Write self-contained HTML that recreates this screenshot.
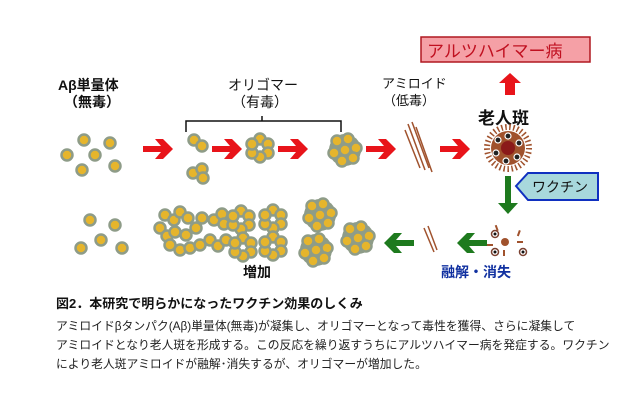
<!DOCTYPE html>
<html><head><meta charset="utf-8"><style>
body{margin:0;background:#fff;width:640px;height:414px;overflow:hidden}
svg{display:block}
text{font-family:"Liberation Sans","Noto Sans CJK JP",sans-serif}
</style></head><body>
<svg width="640" height="414" viewBox="0 0 640 414">
<defs>
<g id="d"><circle r="5.5" fill="#e6b52c" stroke="#8e9c88" stroke-width="2.5"/></g>
<g id="ra"><path d="M0,-3 L18,-3 L12,-10 L20,-10 L30,0 L20,10 L12,10 L18,3 L0,3Z" fill="#e8141a"/></g>
<g id="ga"><path d="M0,-3 L-18,-3 L-12,-10 L-20,-10 L-30,0 L-20,10 L-12,10 L-18,3 L0,3Z" fill="#1e7a1e"/></g>
<g id="ring"><use href="#d" x="0" y="-9"/><use href="#d" x="8" y="-4"/><use href="#d" x="8" y="5"/><use href="#d" x="0" y="9"/><use href="#d" x="-8" y="5"/><use href="#d" x="-8" y="-4"/></g>
<g id="cl"><circle r="16" fill="#8e9c88"/><use href="#d" x="-8" y="-9"/><use href="#d" x="3" y="-11"/><use href="#d" x="11" y="-2"/><use href="#d" x="8" y="8"/><use href="#d" x="-3" y="11"/><use href="#d" x="-11" y="3"/><use href="#d" x="0" y="0"/></g>
</defs>
<g font-size="14" font-weight="bold" fill="#111">
<text x="58" y="90">Aβ単量体</text><text x="64" y="107">（無毒）</text>
<text x="228" y="90" font-weight="normal">オリゴマー</text><text x="232" y="107" font-weight="normal">（有毒）</text>
<text x="382" y="88" font-weight="normal" font-size="13">アミロイド</text><text x="383" y="105" font-weight="normal" font-size="13">（低毒）</text>
<text x="478" y="124" font-size="17">老人斑</text>
</g>
<path d="M186,132 V121 H262 V116 M262,121 H341 V132" fill="none" stroke="#111" stroke-width="1.5"/>
<rect x="421" y="37" width="169" height="25" fill="#f5a0a6" stroke="#b01820" stroke-width="1.5"/>
<text x="427" y="57" font-size="17" fill="#c01020">アルツハイマー病</text>
<path d="M505,95 V83 H499 L510,73 L521,83 H515 V95Z" fill="#e8141a"/>
<use href="#d" x="84" y="140"/><use href="#d" x="110" y="143"/><use href="#d" x="67" y="155"/><use href="#d" x="95" y="155"/><use href="#d" x="115" y="166"/><use href="#d" x="82" y="170"/>
<use href="#ra" x="143" y="149"/><use href="#ra" x="212" y="149"/><use href="#ra" x="278" y="149"/><use href="#ra" x="366" y="149"/><use href="#ra" x="440" y="149"/>
<use href="#d" x="194" y="140"/><use href="#d" x="202" y="146"/>
<use href="#d" x="193" y="173"/><use href="#d" x="202" y="169"/><use href="#d" x="203" y="178"/>
<use href="#ring" x="260" y="148"/>
<use href="#cl" x="345" y="150"/>
<g stroke="#a0522d" stroke-width="1.5"><line x1="408" y1="124" x2="425" y2="170"/><line x1="412" y1="122" x2="429" y2="168"/><line x1="416" y1="127" x2="432" y2="172"/><line x1="405" y1="130" x2="420" y2="168"/></g>
<g transform="translate(508,148)">
<circle r="21" fill="none" stroke="#a0522d" stroke-width="6" stroke-dasharray="1.5 2.5"/>
<circle r="17" fill="#a0522d"/>
<circle r="7" fill="#8b1a1a"/>
<g fill="#222" stroke="#fff" stroke-width="1.2"><circle cx="0" cy="-12" r="3"/><circle cx="11" cy="-5" r="3"/><circle cx="9" cy="9" r="3"/><circle cx="-2" cy="13" r="3"/><circle cx="-12" cy="5" r="3"/><circle cx="-10" cy="-8" r="3"/></g>
</g>
<path d="M505,176 H511 V203 H518 L508,214 L498,203 H505Z" fill="#1e7a1e"/>
<path d="M516,186 L528,173 H598 V200 H528Z" fill="#a8d8dc" stroke="#1030c0" stroke-width="2"/>
<text x="532" y="192" font-size="14" fill="#111">ワクチン</text>
<use href="#d" x="90" y="220"/><use href="#d" x="115" y="225"/><use href="#d" x="101" y="240"/><use href="#d" x="81" y="248"/><use href="#d" x="122" y="248"/>
<g>
<use href="#d" x="160" y="228"/><use href="#d" x="167" y="236"/><use href="#d" x="165" y="215"/><use href="#d" x="174" y="220"/><use href="#d" x="180" y="212"/><use href="#d" x="188" y="218"/>
<use href="#d" x="170" y="245"/><use href="#d" x="180" y="250"/><use href="#d" x="175" y="232"/><use href="#d" x="186" y="235"/><use href="#d" x="196" y="228"/>
<use href="#d" x="190" y="248"/><use href="#d" x="200" y="245"/><use href="#d" x="202" y="218"/>
<use href="#d" x="214" y="220"/><use href="#d" x="222" y="214"/><use href="#d" x="224" y="224"/><use href="#d" x="210" y="240"/><use href="#d" x="218" y="246"/><use href="#d" x="226" y="240"/>
</g>
<use href="#ring" x="241" y="220"/><use href="#ring" x="243" y="247"/>
<use href="#ring" x="273" y="219"/><use href="#ring" x="273" y="246"/>
<use href="#cl" x="320" y="215"/><use href="#cl" x="316" y="250"/><use href="#cl" x="358" y="238"/>
<use href="#ga" x="414" y="243"/><use href="#ga" x="487" y="243"/>
<g stroke="#a0522d" stroke-width="1.5"><line x1="424" y1="228" x2="434" y2="252"/><line x1="428" y1="226" x2="437" y2="250"/></g>
<g transform="translate(505,242)">
<circle r="4" fill="#a0522d"/>
<g fill="#a0522d"><rect x="-4" y="-19" width="2" height="6" transform="rotate(-20)"/><rect x="9" y="-16" width="2" height="6" transform="rotate(20)"/><rect x="12" y="-1" width="6" height="2"/><rect x="-2" y="8" width="2" height="6"/><rect x="-18" y="2" width="6" height="2"/></g>
<g fill="#fff" stroke="#7a4030" stroke-width="1.5"><circle cx="-10" cy="-8" r="3.5"/><circle cx="-10" cy="10" r="3.5"/><circle cx="18" cy="10" r="3.5"/></g>
<g fill="#111"><circle cx="-10" cy="-8" r="1.5"/><circle cx="-10" cy="10" r="1.5"/><circle cx="18" cy="10" r="1.5"/></g>
</g>
<text x="243" y="277" font-size="14" font-weight="bold" fill="#111">増加</text>
<text x="441" y="277" font-size="14" font-weight="bold" fill="#1030a0">融解・消失</text>
<text x="56" y="308" font-size="13" font-weight="bold" fill="#111">図2．本研究で明らかになったワクチン効果のしくみ</text>
<g font-size="11.8" fill="#222">
<text x="56" y="330">アミロイドβタンパク(Aβ)単量体(無毒)が凝集し、オリゴマーとなって毒性を獲得、さらに凝集して</text>
<text x="56" y="349">アミロイドとなり老人斑を形成する。この反応を繰り返すうちにアルツハイマー病を発症する。ワクチン</text>
<text x="56" y="368">により老人斑アミロイドが融解･消失するが、オリゴマーが増加した。</text>
</g>
</svg>
</body></html>
